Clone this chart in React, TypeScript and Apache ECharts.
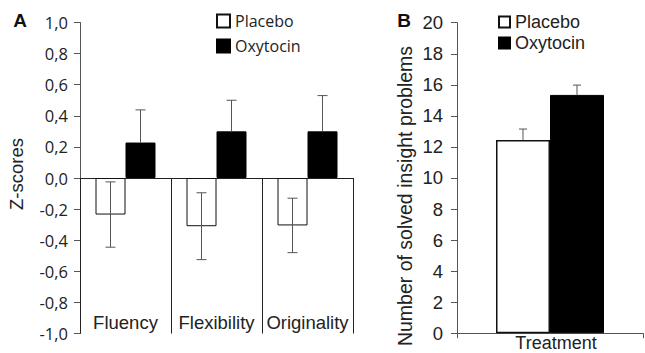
import React, { useEffect, useRef } from "react";
import * as echarts from "echarts";

const categoriesA = ["Fluency", "Flexibility", "Originality"];
const placeboA = [-0.235, -0.31, -0.305];
const placeboErrA = [0.21, 0.215, 0.175];
const oxytocinA = [0.228, 0.3, 0.3];
const oxytocinErrA = [0.21, 0.2, 0.23];

const categoriesB = ["Treatment"];
const placeboB = [12.45];
const placeboErrB = [0.7];
const oxytocinB = [15.35];
const oxytocinErrB = [0.63];

const seriesNames = ["Placebo", "Oxytocin"];

function errorSeries(
  name: string,
  xAxisIndex: number,
  yAxisIndex: number,
  data: number[][],
  offset: number,
  capW: number
) {
  return {
    type: "custom",
    name,
    xAxisIndex,
    yAxisIndex,
    z: 5,
    data,
    renderItem: (params: any, api: any) => {
      const idx = api.value(0);
      const lo = api.value(1);
      const hi = api.value(2);
      const capLo = api.value(3);
      const pLo = api.coord([idx, lo]);
      const pHi = api.coord([idx, hi]);
      const x = pLo[0] + offset;
      const st = { stroke: "#555", lineWidth: 1 };
      const children: any[] = [
        { type: "line", shape: { x1: x, y1: pLo[1], x2: x, y2: pHi[1] }, style: st },
        { type: "line", shape: { x1: x - capW / 2, y1: pHi[1], x2: x + capW / 2, y2: pHi[1] }, style: st },
      ];
      if (capLo) {
        children.push({
          type: "line",
          shape: { x1: x - capW / 2, y1: pLo[1], x2: x + capW / 2, y2: pLo[1] },
          style: st,
        });
      }
      return { type: "group", children };
    },
  };
}

export default function App() {
  const ref = useRef<HTMLDivElement>(null);
  useEffect(() => {
    document.body.style.margin = "0";
    if (!ref.current) return;
    const chart = echarts.init(ref.current, null, { renderer: "svg" });
    const barWA = 30;
    const barWB = 54;
    const option: any = {
      animation: false,
      backgroundColor: "#fff",
      grid: [
        { left: 80, top: 22.5, width: 273, height: 311, outerBoundsMode: "none", containLabel: false },
        { left: 457, top: 22.7, width: 186, height: 310.5, outerBoundsMode: "none", containLabel: false },
      ],
      legend: [
        {
          data: seriesNames,
          orient: "vertical",
          left: 216,
          top: 13,
          padding: 0,
          itemWidth: 13,
          itemHeight: 13,
          itemGap: 9,
          icon: "rect",
          selectedMode: false,
          textStyle: { fontFamily: "Open Sans", fontSize: 16, color: "#222" },
        },
        {
          data: seriesNames,
          orient: "vertical",
          left: 498,
          top: 13,
          padding: 0,
          itemWidth: 11,
          itemHeight: 11,
          itemGap: 3,
          icon: "rect",
          selectedMode: false,
          textStyle: { fontFamily: "Liberation Sans", fontSize: 18, color: "#222" },
        },
      ],
      xAxis: [
        {
          type: "category",
          gridIndex: 0,
          data: categoriesA,
          boundaryGap: true,
          axisLine: { onZero: true, lineStyle: { color: "#222", width: 1 } },
          axisTick: { show: true, interval: 0, length: 155.5, inside: false, lineStyle: { color: "#222" } },
          axisLabel: { show: false },
        },
        {
          type: "category",
          gridIndex: 1,
          data: categoriesB,
          boundaryGap: true,
          axisLine: { lineStyle: { color: "#555", width: 1 } },
          axisTick: { show: true, length: 5, lineStyle: { color: "#555" } },
          axisLabel: {
            margin: 1,
            padding: [0, 0, 0, 12],
            fontFamily: "Liberation Sans",
            fontSize: 18,
            color: "#222",
          },
        },
        {
          type: "category",
          gridIndex: 0,
          position: "bottom",
          data: categoriesA,
          boundaryGap: true,
          axisLine: { show: false, onZero: false },
          axisTick: { show: false },
          axisLabel: {
            interval: 0,
            hideOverlap: false,
            margin: -21,
            fontFamily: "Liberation Sans",
            fontSize: 18.5,
            color: "#222",
          },
        },
      ],
      yAxis: [
        {
          type: "value",
          gridIndex: 0,
          min: -1,
          max: 1,
          interval: 0.2,
          splitLine: { show: false },
          axisLine: { show: true, lineStyle: { color: "#555" } },
          axisTick: { show: true, length: 6, lineStyle: { color: "#555" } },
          axisLabel: {
            margin: 12,
            fontFamily: "Open Sans",
            fontSize: 16.5,
            color: "#222",
            formatter: (v: number) => v.toFixed(1).replace(".", ","),
          },
        },
        {
          type: "value",
          gridIndex: 1,
          min: 0,
          max: 20,
          interval: 2,
          splitLine: { show: false },
          axisLine: { show: true, lineStyle: { color: "#555" } },
          axisTick: { show: true, length: 6, lineStyle: { color: "#555" } },
          axisLabel: {
            margin: 14,
            fontFamily: "Liberation Sans",
            fontSize: 18.5,
            color: "#222",
          },
        },
      ],
      series: [
        {
          type: "bar",
          name: "Placebo",
          xAxisIndex: 0,
          yAxisIndex: 0,
          data: placeboA,
          barWidth: barWA,
          barGap: "0%",
          itemStyle: { color: "#fff", borderColor: "#111", borderWidth: 1 },
        },
        {
          type: "bar",
          name: "Oxytocin",
          xAxisIndex: 0,
          yAxisIndex: 0,
          data: oxytocinA,
          barWidth: barWA,
          barGap: "0%",
          itemStyle: { color: "#000", borderColor: "#000", borderWidth: 1 },
        },
        {
          type: "bar",
          name: "Placebo",
          xAxisIndex: 1,
          yAxisIndex: 1,
          data: placeboB,
          barWidth: barWB,
          barGap: "0%",
          itemStyle: { color: "#fff", borderColor: "#111", borderWidth: 1.5 },
        },
        {
          type: "bar",
          name: "Oxytocin",
          xAxisIndex: 1,
          yAxisIndex: 1,
          data: oxytocinB,
          barWidth: barWB,
          barGap: "0%",
          itemStyle: { color: "#000", borderColor: "#000", borderWidth: 1 },
        },
        errorSeries(
          "errPlaceboA",
          0,
          0,
          placeboA.map((v, i) => [i, v - placeboErrA[i], v + placeboErrA[i], 1]),
          -barWA / 2,
          10
        ),
        errorSeries(
          "errOxytocinA",
          0,
          0,
          oxytocinA.map((v, i) => [i, v, v + oxytocinErrA[i], 0]),
          barWA / 2,
          10
        ),
        errorSeries(
          "errPlaceboB",
          1,
          1,
          placeboB.map((v, i) => [i, v, v + placeboErrB[i], 0]),
          -barWB / 2,
          8
        ),
        errorSeries(
          "errOxytocinB",
          1,
          1,
          oxytocinB.map((v, i) => [i, v, v + oxytocinErrB[i], 0]),
          barWB / 2,
          8
        ),
      ],
      graphic: [
        {
          type: "text",
          x: 20,
          y: 20,
          style: {
            text: "A",
            fontFamily: "Liberation Sans",
            fontWeight: "bold",
            fontSize: 19,
            fill: "#111",
            align: "center",
            verticalAlign: "middle",
          },
        },
        {
          type: "text",
          x: 404,
          y: 20,
          style: {
            text: "B",
            fontFamily: "Liberation Sans",
            fontWeight: "bold",
            fontSize: 19,
            fill: "#111",
            align: "center",
            verticalAlign: "middle",
          },
        },
        {
          type: "text",
          x: 16,
          y: 174,
          rotation: Math.PI / 2,
          style: {
            text: "Z-scores",
            fontFamily: "Liberation Sans",
            fontSize: 18.5,
            fill: "#222",
            align: "center",
            verticalAlign: "middle",
          },
        },
        {
          type: "text",
          x: 405,
          y: 196,
          rotation: Math.PI / 2,
          style: {
            text: "Number of solved insight problems",
            fontFamily: "Liberation Sans",
            fontSize: 19.5,
            fill: "#222",
            align: "center",
            verticalAlign: "middle",
          },
        },
      ],
    };
    chart.setOption(option);
    return () => chart.dispose();
  }, []);
  return (
    <div
      ref={ref}
      style={{ position: "fixed", left: 0, top: 0, width: 645, height: 353 }}
    />
  );
}
